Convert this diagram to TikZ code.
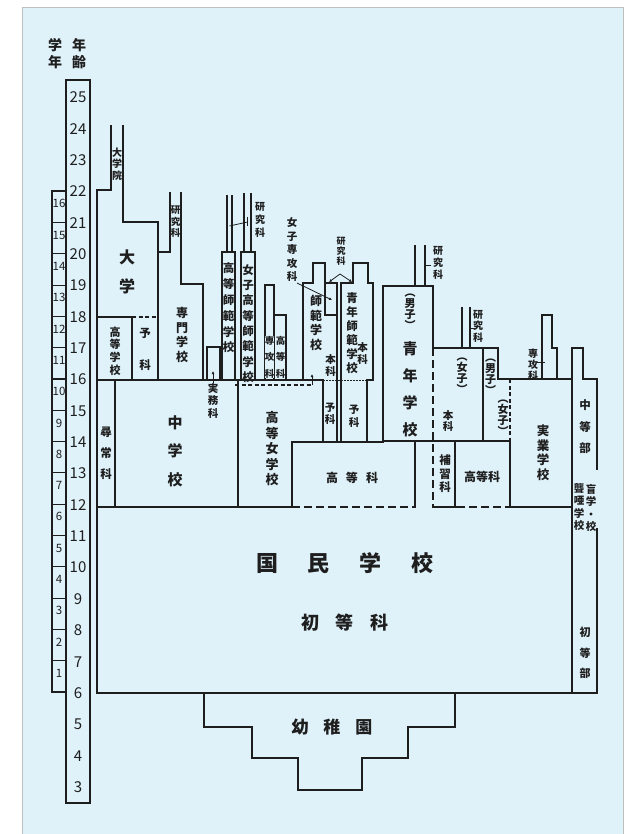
\documentclass[tikz,border=0pt]{standalone}
\usepackage{fontspec}
\newfontfamily\jp{Noto Sans CJK JP}
\usetikzlibrary{arrows.meta}

\definecolor{paper}{HTML}{DFF2FA}
\definecolor{ink}{HTML}{1E1E1E}

\begin{document}
\begin{tikzpicture}[x=1pt, y=-1pt,
    wall/.style={draw=ink, line width=1.1pt},
    heavy/.style={draw=ink, line width=2.6pt, line cap=rect},
    heavydash/.style={draw=ink, line width=2.6pt, dash pattern=on 8pt off 4pt},
    thindash/.style={wall, dash pattern=on 4pt off 2.5pt},
    dotline/.style={wall, line width=0.9pt, dash pattern=on 1.5pt off 1.5pt},
    tick/.style={wall, line width=0.8pt},
    ptr/.style={wall, line width=0.8pt, -{Latex[length=3pt,width=3pt]}},
    vt/.style 2 args={align=center, inner sep=0pt, text=ink, font=\jp\bfseries\fontsize{#1}{#2}\selectfont},
    ht/.style={inner sep=0pt, text=ink, font=\jp\bfseries\fontsize{#1}{#1}\selectfont},
    num/.style={inner sep=0pt, text=ink, font=\jp\fontsize{#1}{#1}\selectfont}
]
\useasboundingbox (0,0) rectangle (623,834);
\fill[white] (0,0) rectangle (623,834);
\draw[fill=paper, draw=gray!50] (22,7) rectangle (623,834);

% age and grade scales
\draw[wall] (66,80) rectangle (90,803);
\draw[wall] (52,191) rectangle (66,692);
\foreach \k in {1,...,15}
    \draw[wall] (52,{692-\k*31.3}) -- (66,{692-\k*31.3});
\foreach \a in {3,...,25}
    \node[num=15] (age\a) at (78,{693-(\a-6)*31.35}) {\a};
\foreach \g in {1,...,16}
    \node[num=11.5] (grade\g) at (59,{692-(\g-0.5)*31.3-3}) {\g};
\node[vt={14}{17}] (gakunen) at (55,54) {学\\年};
\node[vt={14}{17}] (nenrei) at (79,54) {年\\齢};

% university, koutougakkou, senmongakkou
\draw[wall] (97,507) -- (97,190) -- (111,190) -- (111,125);
\draw[wall] (123,125) -- (123,222) -- (158,222) -- (158,380);
\draw[wall] (97,317) -- (132,317);
\draw[thindash] (132,317) -- (158,317);
\draw[wall] (132,317) -- (132,380);
\draw[wall] (158,252) -- (170,252) -- (170,192);
\draw[wall] (181,192) -- (181,284) -- (203,284) -- (203,380);
\draw[wall] (207,380) -- (207,347) -- (220,347) -- (220,380);

% normal schools
\draw[wall] (222,380) -- (222,252) -- (235,252) -- (235,380);
\draw[wall] (227,252) -- (227,195);
\draw[wall] (232,252) -- (232,195);
\draw[wall] (241,380) -- (241,252) -- (255,252) -- (255,380);
\draw[wall] (244,252) -- (244,193);
\draw[wall] (251,252) -- (251,193);
\draw[tick] (229.5,226) -- (247.5,222);
\draw[tick] (247.5,217) -- (247.5,226);
\draw[wall] (265,380) -- (265,285) -- (274,285) -- (274,380);
\draw[wall] (274,315) -- (286,315) -- (286,380);

% middle schools
\draw[wall] (97,380) -- (303,380);
\draw[wall] (115,380) -- (115,507);
\draw[wall] (238,380) -- (238,507);
\draw[wall] (303,380) -- (303,283) -- (313,283) -- (313,263) -- (325,263)
    -- (325,283) -- (337,283) -- (337,442);
\draw[wall] (325,283) -- (325,315) -- (337,315);
\draw[wall] (303,380) -- (323,380) -- (323,442);
\draw[wall] (341,442) -- (341,283) -- (353,283) -- (353,263) -- (368,263)
    -- (368,283) -- (373,283) -- (373,380) -- (367,380) -- (367,442);
\draw[dotline] (323,380) -- (367,380);
\draw[thindash] (235,385) -- (312,385);
\draw[wall] (292,507) -- (292,442) -- (383,442);

% seinen gakkou
\draw[heavy] (383,442) -- (383,286) -- (433,286) -- (433,348);
\draw[heavydash] (433,348) -- (433,507);
\draw[heavy] (415,442) -- (415,507);
\draw[wall] (383,441) -- (510,441);
\draw[wall] (415,286) -- (415,245);
\draw[wall] (425,286) -- (425,245);
\draw[tick] (425,265) -- (431,265);
\draw[wall] (433,348) -- (498,348) -- (498,379) -- (572,379);
\draw[wall] (483,348) -- (483,441);
\draw[thindash] (510,379) -- (510,441);
\draw[wall] (510,441) -- (510,507);
\draw[wall] (455,441) -- (455,507);
\draw[wall] (462,348) -- (462,307);
\draw[wall] (470,348) -- (470,307);
\draw[tick] (470,328) -- (475,328);
\draw[wall] (542,379) -- (542,315) -- (552,315) -- (552,348) -- (557,348) -- (557,379);
\draw[tick] (537,362) -- (545,362);

% kokumin gakkou
\draw[heavy] (97,507) -- (292,507);
\draw[heavydash] (292,507) -- (415,507);
\draw[heavy] (433,507) -- (457,507);
\draw[heavydash] (457,507) -- (510,507);
\draw[heavy] (510,507) -- (572,507);
\draw[heavy] (97,507) -- (97,693) -- (572,693) -- (572,507);
\draw[wall] (572,507) -- (572,348) -- (583,348) -- (583,379) -- (597,379) -- (597,470);
\draw[wall] (597,528) -- (597,693) -- (572,693);

% youchien
\draw[draw=ink, line width=1.6pt] (204,693) -- (204,727) -- (252,727) -- (252,758)
    -- (298,758) -- (298,790) -- (362,790) -- (362,758) -- (408,758)
    -- (408,727) -- (455,727) -- (455,693);

% labels
\node[vt={10}{11.5}, fill=paper] (daigakuin) at (117,164) {大\\学\\院};
\node[vt={16}{29}] (daigaku) at (127,272) {大\\学};
\node[vt={11}{12.7}] (koukou) at (115,351) {高\\等\\学\\校};
\node[vt={11.5}{32}] (yoka) at (145,349) {予\\科};
\node[vt={12}{14.5}] (senmon) at (182,335) {専\\門\\学\\校};
\node[vt={9.5}{11.5}, fill=paper] (kenkyu1) at (175.5,222) {研\\究\\科};
\node[vt={10.5}{12.5}] (jitsumu) at (213,401) {実\\務\\科};
\coordinate (jitsumubox) at (213,371);
\draw[ptr] (jitsumu.north) -- (jitsumubox);
\node[vt={11.5}{15.8}] (koushi) at (228.5,308) {高\\等\\師\\範\\学\\校};
\node[vt={11.5}{15.3}] (joshikoushi) at (248,323.5) {女\\子\\高\\等\\師\\範\\学\\校};
\node[vt={10}{13}] (kenkyu2) at (260,220) {研\\究\\科};
\node[vt={9.5}{16.5}, fill=paper] (senkou1) at (269.5,357) {専\\攻\\科};
\node[vt={9.5}{16.5}, fill=paper] (koutouka1) at (280.5,357) {高\\等\\科};
\node[vt={10.5}{13.5}] (joshisenkou) at (292,250) {女\\子\\専\\攻\\科};
\coordinate (senkoubox) at (332,300);
\draw[ptr] (297,283) -- (senkoubox);
\node[vt={9}{10}] (kenkyu3) at (341,251) {研\\究\\科};
\coordinate (kenkyupeak) at (340,274);
\coordinate (kenkyuleft) at (329,282);
\coordinate (kenkyuright) at (352,282);
\draw[ptr] (kenkyupeak) -- (kenkyuleft);
\draw[ptr] (kenkyupeak) -- (kenkyuright);
\node[vt={12}{14.5}] (shihan) at (316,323) {師\\範\\学\\校};
\node[vt={10.5}{12}] (honka1) at (330.5,366) {本\\科};
\node[vt={10.5}{12}] (yoka1) at (330,414) {予\\科};
\node[vt={11.5}{14}] (seishihan) at (352,333) {青\\年\\師\\範\\学\\校};
\node[vt={10.5}{12}] (honka2) at (362.5,354) {本\\科};
\node[vt={10.5}{13}] (yoka2) at (354,416) {予\\科};
\coordinate (koujo) at (312,385);
\coordinate (shihanin) at (312,374);
\draw[ptr] (koujo) -- (shihanin);
\node[vt={11.5}{21}] (jinjou) at (106,453) {尋\\常\\科};
\node[vt={15}{28.5}] (chuugaku) at (175,451) {中\\学\\校};
\node[vt={13}{15.5}] (koujogaku) at (272,449) {高\\等\\女\\学\\校};
\node[ht=12] (koutouka2) at (352,478) {高\hspace{8pt}等\hspace{8pt}科};
\node[vt={11}{11}] (danshi1) at (410,312) {︵\\男\\子\\︶};
\node[vt={15}{27}] (seinen) at (410,389) {青\\年\\学\\校};
\node[vt={10}{12}] (kenkyu4) at (438,263) {研\\究\\科};
\node[vt={11}{11}] (joshi1) at (462,376) {︵\\女\\子\\︶};
\node[vt={10.5}{11.5}] (honka3) at (448,421) {本\\科};
\node[vt={11}{11}] (danshi2) at (490.5,377) {︵\\男\\子\\︶};
\node[vt={11}{11}] (joshi2) at (503,418) {︵\\女\\子\\︶};
\node[vt={10}{11.5}] (kenkyu5) at (478,326) {研\\究\\科};
\node[vt={10}{11}] (senkou2) at (533,365) {専\\攻\\科};
\node[vt={12.5}{14.5}] (jitsugyou) at (543,453) {実\\業\\学\\校};
\node[vt={11.5}{13.5}] (hoshuu) at (445,474) {補\\習\\科};
\node[ht=12] (koutouka3) at (482,477) {高等科};
\node[vt={11.5}{21.5}] (chuutoubu) at (585,427) {中\\等\\部};
\node[vt={10.5}{12.5}] (mougakkou) at (591,508) {盲\\学\\・\\校};
\node[vt={10.5}{12.5}] (rouagakkou) at (579,507) {聾\\唖\\学\\校};
\node[vt={11}{20.5}] (shotoubu) at (585,653) {初\\等\\部};
\node[ht=22] (kokumin) at (345,563) {国\hspace{30pt}民\hspace{30pt}学\hspace{30pt}校};
\node[ht=18] (shotouka) at (345,623) {初\hspace{17pt}等\hspace{17pt}科};
\node[ht=17] (youchien) at (332,727) {幼\hspace{15pt}稚\hspace{15pt}園};
\end{tikzpicture}
\end{document}
